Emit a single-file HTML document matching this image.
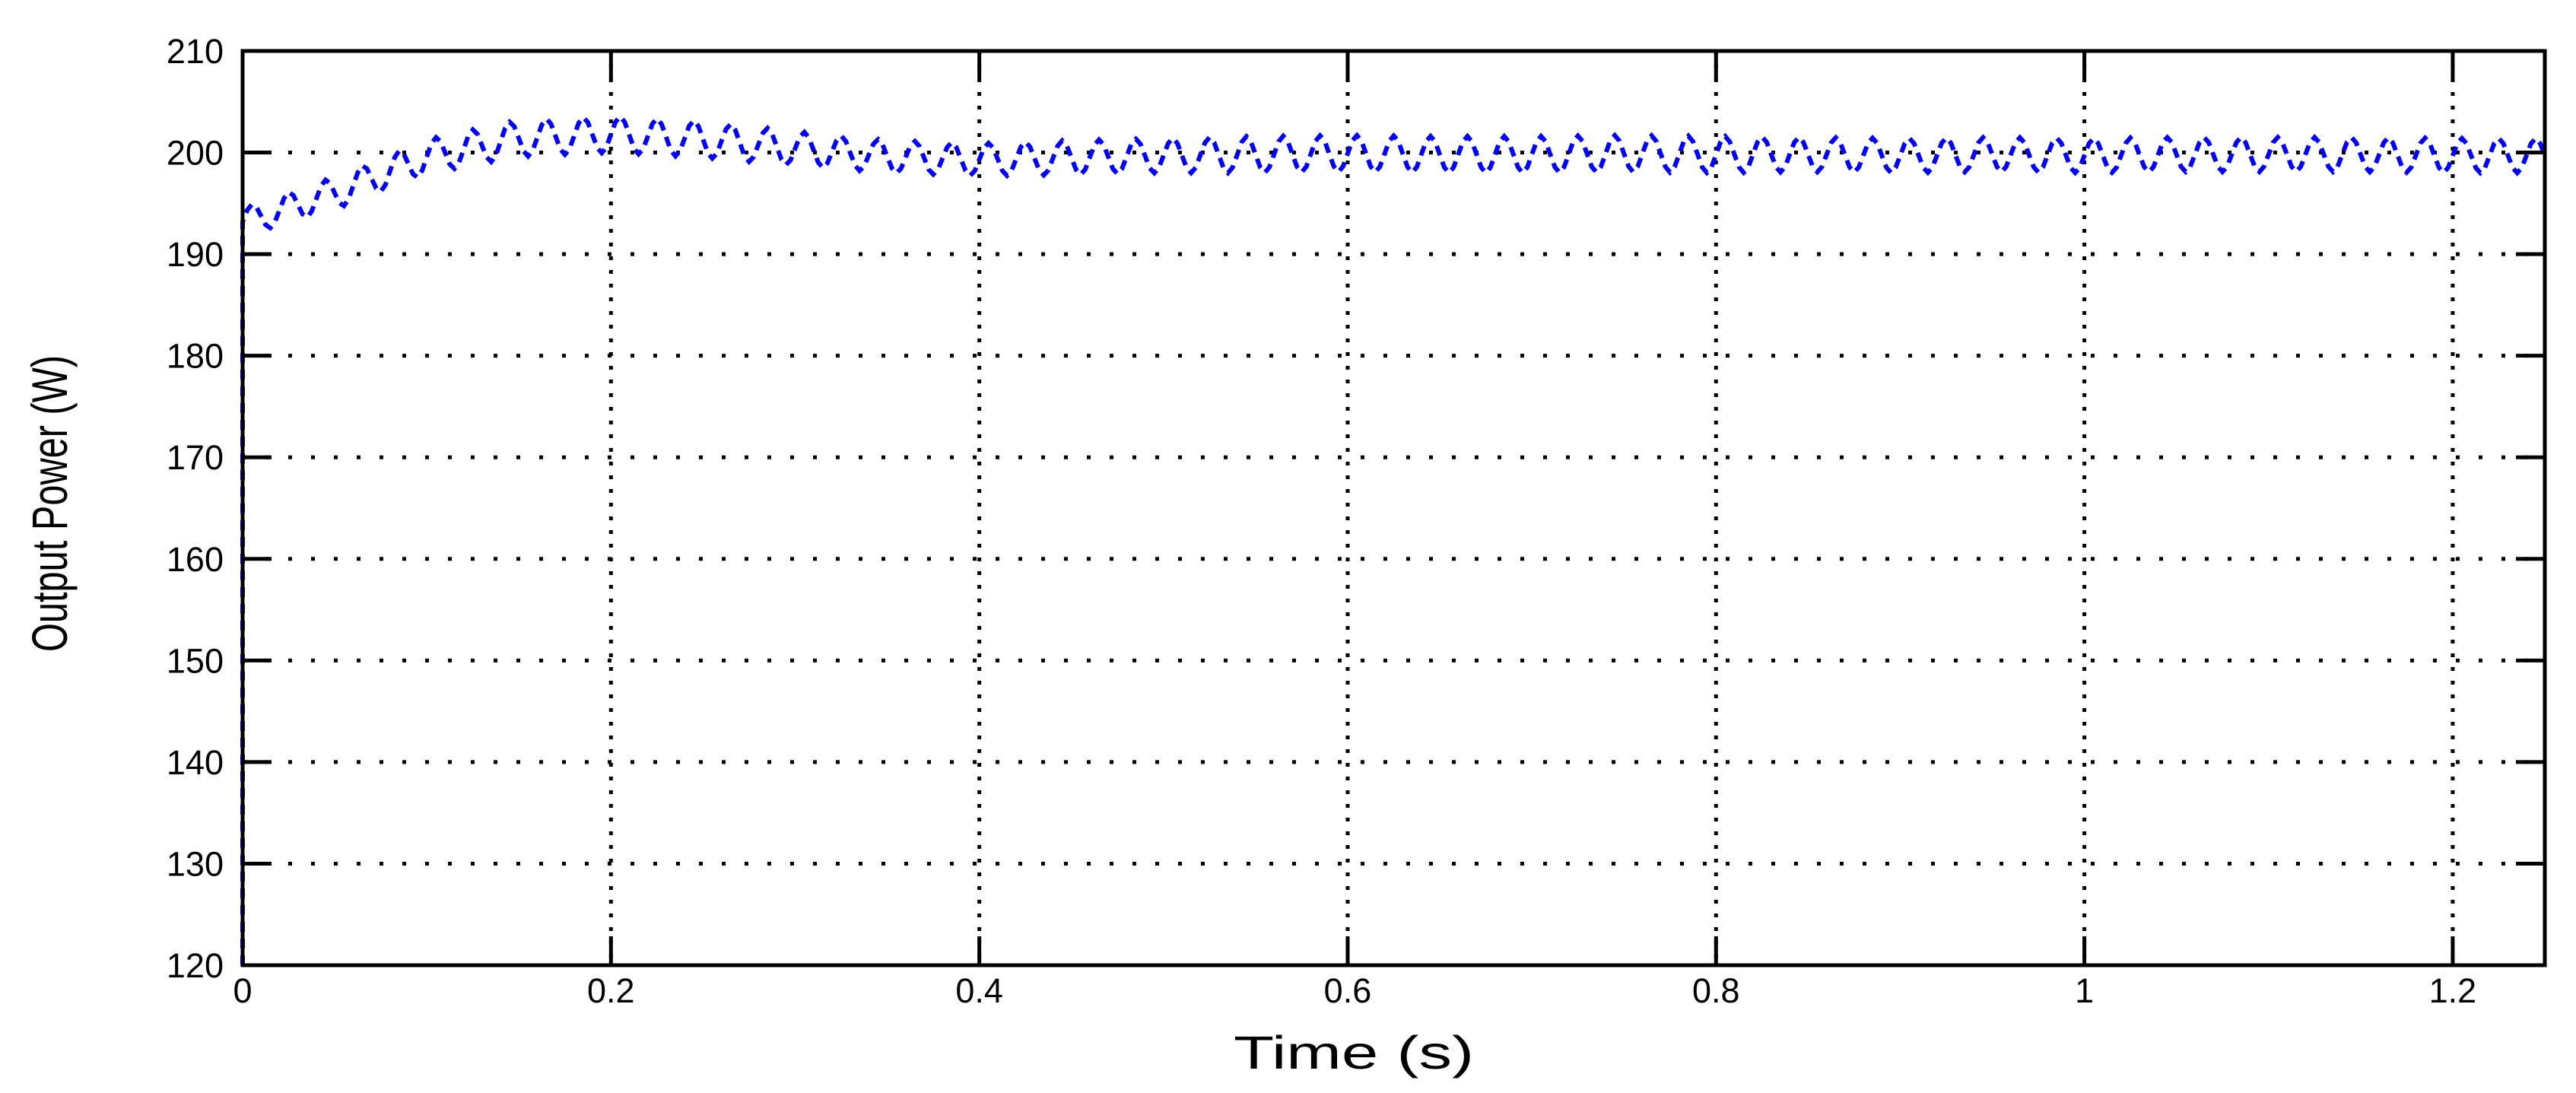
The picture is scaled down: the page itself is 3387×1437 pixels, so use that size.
<!DOCTYPE html>
<html><head><meta charset="utf-8"><style>
html,body{margin:0;padding:0;background:#fff;}
svg{display:block;}
</style></head><body>
<svg id="chart" width="3387" height="1437" viewBox="0 0 3387 1437" xmlns="http://www.w3.org/2000/svg">
<rect x="0" y="0" width="3387" height="1437" fill="#fff"/>
<g id="grid"></g>
<g id="series"></g>
<g id="axes"></g>
<text x="1622" y="1405" textLength="316" lengthAdjust="spacingAndGlyphs" font-family="Liberation Sans, sans-serif" font-size="61" fill="#000">Time (s)</text>
<text transform="translate(88,662) rotate(-90)" text-anchor="middle" textLength="390" lengthAdjust="spacingAndGlyphs" font-family="Liberation Sans, sans-serif" font-size="66" fill="#000">Output Power (W)</text>
</svg>
<script>
const xTicks = [0, 0.2, 0.4, 0.6, 0.8, 1, 1.2];
const xTickLabels = ["0", "0.2", "0.4", "0.6", "0.8", "1", "1.2"];
const yTicks = [120, 130, 140, 150, 160, 170, 180, 190, 200, 210];
const yTickLabels = ["120", "130", "140", "150", "160", "170", "180", "190", "200", "210"];
// envelope of the signal, sampled every 0.05 s (t = 0 ... 1.25)
const envTimes = [0,0.05,0.1,0.15,0.2,0.25,0.3,0.35,0.4,0.45,0.5,0.55,0.6,0.65,0.7,0.75,0.8,0.85,0.9,0.95,1.0,1.05,1.1,1.15,1.2,1.25];
const envMean  = [193.2,196.0,199.6,201.4,201.8,201.3,200.4,199.6,199.3,199.5,199.7,199.8,199.9,199.8,199.8,199.9,199.8,199.8,199.7,199.8,199.7,199.8,199.8,199.8,199.7,199.7];
const envAmp   = [1.4,1.6,1.7,1.8,1.8,1.8,1.7,1.6,1.6,1.7,1.7,1.8,1.8,1.8,1.8,1.8,1.8,1.7,1.7,1.7,1.7,1.7,1.7,1.7,1.7,1.7];
// one ripple cycle (period 0.02 s) sampled in 8 steps
const ripplePeriod = 0.02;
const rippleShape = [0, 0.7, 1, 0.7, 0, -0.7, -1, -0.7];
const startValue = 120;

const L=319, R=3346, T=67, B=1269;
const xMin=0, xMax=1.25, yMin=120, yMax=210;
const xs = v => L + (v - xMin) / (xMax - xMin) * (R - L);
const ys = v => B - (v - yMin) / (yMax - yMin) * (B - T);
const NS = "http://www.w3.org/2000/svg";
function mk(tag, attrs, parent){
  const e = document.createElementNS(NS, tag);
  for (const k in attrs) e.setAttribute(k, attrs[k]);
  parent.appendChild(e);
  return e;
}
const grid = document.getElementById('grid');
const axes = document.getElementById('axes');
const series = document.getElementById('series');

xTicks.forEach((t,i)=>{
  const x = xs(t);
  if (t > xMin) {
    const g = mk('line',{x1:x,y1:T,x2:x,y2:B,stroke:'#000','stroke-width':5,'stroke-dasharray':'5 13'},grid);
    
    
  }
  const tb = mk('line',{x1:x,y1:B,x2:x,y2:B-38,stroke:'#000','stroke-width':5},axes);
  
  
  const tt = mk('line',{x1:x,y1:T,x2:x,y2:T+38,stroke:'#000','stroke-width':5},axes);
  
  
  const lb = mk('text',{x:x,y:1318,'text-anchor':'middle','font-family':'Liberation Sans, sans-serif','font-size':45,fill:'#000'},axes);
  lb.textContent = xTickLabels[i];
  
  
});
yTicks.forEach((v,i)=>{
  const y = ys(v);
  if (v > yMin && v < yMax) {
    const g = mk('line',{x1:L,y1:y,x2:R,y2:y,stroke:'#000','stroke-width':5,'stroke-dasharray':'5 25'},grid);
    
    
  }
  const tl = mk('line',{x1:L,y1:y,x2:L+38,y2:y,stroke:'#000','stroke-width':5},axes);
  
  
  const tr = mk('line',{x1:R,y1:y,x2:R-38,y2:y,stroke:'#000','stroke-width':5},axes);
  
  
  const lb = mk('text',{x:294,y:y+16,'text-anchor':'end','font-family':'Liberation Sans, sans-serif','font-size':45,fill:'#000'},axes);
  lb.textContent = yTickLabels[i];
  
  
});
const box = mk('rect',{x:L,y:T,width:R-L,height:B-T,fill:'none',stroke:'#000','stroke-width':5},axes);



// build series from envelope arrays + ripple shape
function interp(arrT, arrV, t){
  if (t <= arrT[0]) return arrV[0];
  for (let i=1;i<arrT.length;i++){
    if (t <= arrT[i]) { const f=(t-arrT[i-1])/(arrT[i]-arrT[i-1]); return arrV[i-1]+f*(arrV[i]-arrV[i-1]); }
  }
  return arrV[arrV.length-1];
}
const step = ripplePeriod / rippleShape.length;
const n = Math.round(xMax / step);
let d = 'M' + xs(0) + ' ' + ys(startValue);
for (let k=0;k<=n;k++){
  const t = k*step;
  const v = interp(envTimes, envMean, t) + interp(envTimes, envAmp, t) * rippleShape[k % rippleShape.length];
  d += ' L' + xs(t).toFixed(1) + ' ' + ys(v).toFixed(1);
}
const path = mk('path',{d:d,fill:'none',stroke:'#0000ff','stroke-width':6,'stroke-dasharray':'13 9'},series);


</script>
</body></html>
